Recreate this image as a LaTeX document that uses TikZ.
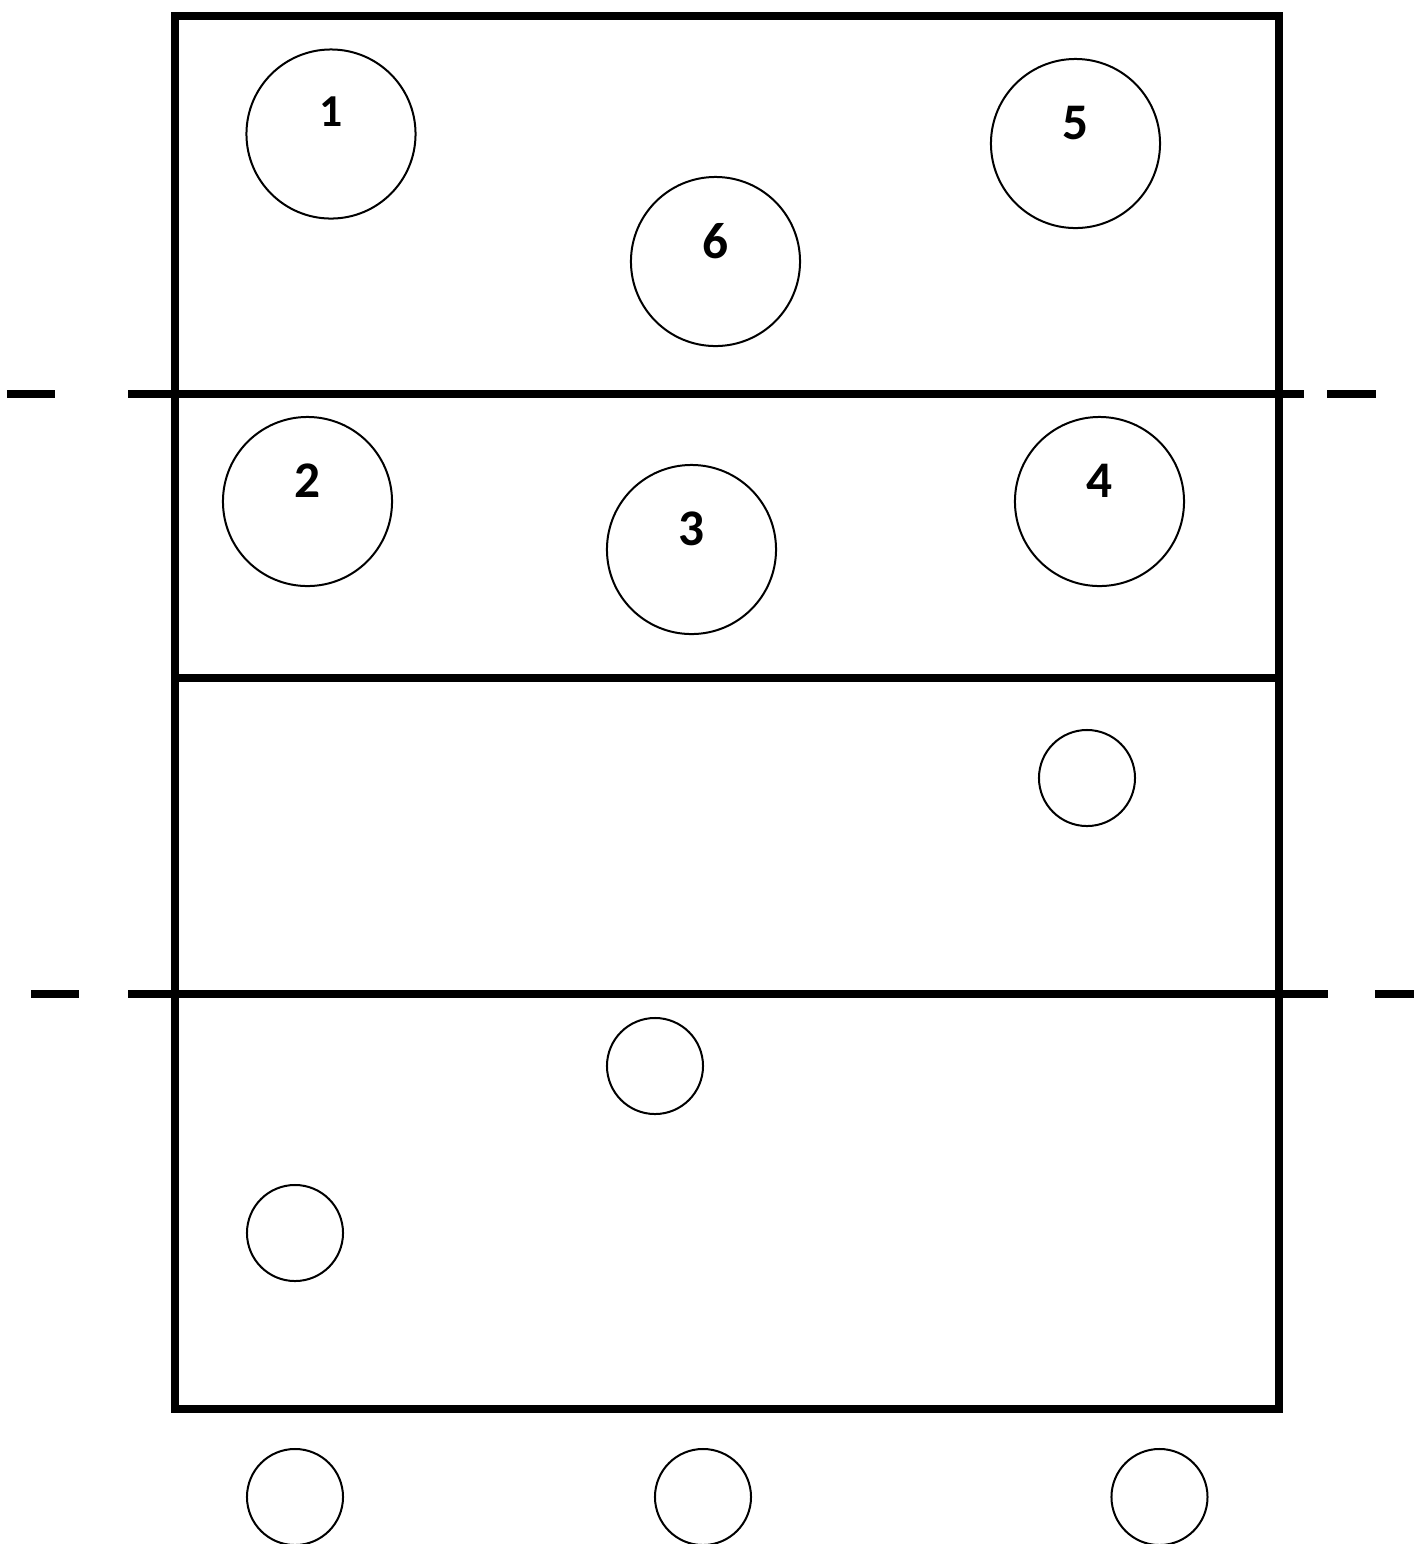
\documentclass[tikz,border=0pt]{standalone}
\usepackage{fontspec}
\setmainfont{Carlito}
\begin{document}
\begin{tikzpicture}[x=0.01cm,y=-0.01cm,
  court/.style={line width=0.08cm, line join=miter},
  player/.style={circle, draw, line width=0.02cm, minimum size=1.69cm, inner sep=0pt},
  spare/.style={circle, draw, line width=0.02cm, minimum size=0.96cm, inner sep=0pt},
  num/.style={inner sep=0pt, font=\fontsize{14.6pt}{16pt}\selectfont\bfseries},
  numsmall/.style={inner sep=0pt, font=\fontsize{13pt}{15pt}\selectfont\bfseries}]
\useasboundingbox (0,0) rectangle (1414,1544);
% court
\draw[court] (175,16) rectangle (1279,1409);
\draw[court] (175,678) -- (1279,678);
% first dashed line
\draw[court] (7,394) -- (55,394);
\draw[court] (128,394) -- (1304,394);
\draw[court] (1327,394) -- (1376,394);
% second dashed line
\draw[court] (31,994) -- (79,994);
\draw[court] (128,994) -- (1328,994);
\draw[court] (1375,994) -- (1420,994);
% numbered players
\node[player] (p1) at (331,134) {};
\node[numsmall] (l1) at (331,112) {1};
\node[player] (p5) at (1075.5,143.5) {};
\node[num] (l5) at (1075.5,123) {5};
\node[player] (p6) at (715.5,261.5) {};
\node[num] (l6) at (715.5,241) {6};
\node[player] (p2) at (307.5,501.5) {};
\node[num] (l2) at (307.5,481) {2};
\node[player] (p3) at (691.5,549.5) {};
\node[num] (l3) at (691.5,529) {3};
\node[player] (p4) at (1099.5,501.5) {};
\node[num] (l4) at (1099.5,481) {4};
% unnumbered
\node[spare] (s1) at (1087,778) {};
\node[spare] (s2) at (655,1066) {};
\node[spare] (s3) at (295,1233) {};
\node[spare] (s4) at (295,1497) {};
\node[spare] (s5) at (703,1497) {};
\node[spare] (s6) at (1159.5,1497) {};
\end{tikzpicture}
\end{document}
